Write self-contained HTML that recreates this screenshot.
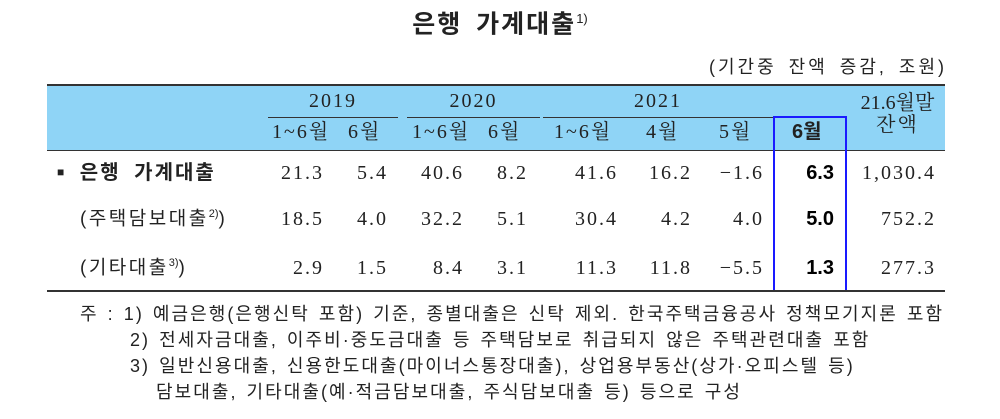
<!DOCTYPE html>
<html><head><meta charset="utf-8"><style>
body{margin:0;width:1000px;height:419px;background:#fff;position:relative;overflow:hidden;font-family:"Liberation Serif","Noto Serif CJK SC",serif;color:#222}
.a{position:absolute;white-space:nowrap;line-height:1}
.n{font-size:20px;letter-spacing:2px}
.g{font-family:"Liberation Sans","Noto Sans CJK KR",sans-serif}
.r{text-align:right}
.c{text-align:center}
</style></head><body>
<div class="a g" style="left:0;width:1000px;top:12px;text-align:center;font-size:25px;font-weight:bold;letter-spacing:2px;word-spacing:5px">은행 가계대출<sup style="font-size:13px;font-weight:normal;letter-spacing:0">1)</sup></div>
<div class="a g" style="right:53px;top:58px;font-size:18px;letter-spacing:3px;word-spacing:4px">(기간중 잔액 증감, 조원)</div>
<div class="a" style="left:47px;top:84px;width:898px;height:64px;background:#8fd4f6;border-top:2px solid #333;border-bottom:1px solid #333"></div>
<div class="a" style="left:268px;top:117px;width:130px;border-top:1px solid #333"></div>
<div class="a" style="left:407px;top:117px;width:133px;border-top:1px solid #333"></div>
<div class="a" style="left:543px;top:117px;width:303px;border-top:1px solid #333"></div>
<div class="a n c" style="left:268px;width:130px;top:91px">2019</div>
<div class="a n c" style="left:407px;width:133px;top:91px">2020</div>
<div class="a n c" style="left:543px;width:230px;top:91px">2021</div>
<div class="a n c" style="left:850px;width:95px;top:93px;letter-spacing:0">21.6월말</div>
<div class="a n c" style="left:850px;width:95px;top:115px">잔액</div>
<div class="a n" style="left:272px;top:122px">1~6월</div>
<div class="a n" style="left:348px;top:122px">6월</div>
<div class="a n" style="left:412px;top:122px">1~6월</div>
<div class="a n" style="left:488px;top:122px">6월</div>
<div class="a n" style="left:554px;top:122px">1~6월</div>
<div class="a n" style="left:646px;top:122px">4월</div>
<div class="a n" style="left:719px;top:122px">5월</div>
<div class="a n g" style="left:792px;top:122px;font-weight:bold;letter-spacing:0">6월</div>
<div class="a" style="left:773px;top:116px;width:70px;height:172px;border:2px solid #1a1aff"></div>
<div class="a g" style="left:57px;top:163px;font-size:20px;font-weight:bold;letter-spacing:2px;word-spacing:6px"><span style="font-size:12px;vertical-align:3px">■</span> 은행 가계대출</div>
<div class="a g" style="left:80px;top:209px;font-size:19px;letter-spacing:2.5px">(주택담보대출<sup style="font-size:11px;letter-spacing:0">2)</sup>)</div>
<div class="a g" style="left:80px;top:258px;font-size:19px;letter-spacing:2.5px">(기타대출<sup style="font-size:11px;letter-spacing:0">3)</sup>)</div>
<div id="rows"></div>
<div class="a" style="left:47px;top:290px;width:898px;border-top:2px solid #333"></div>
<div class="a g" style="left:80px;top:301px;font-size:18px;line-height:26px;letter-spacing:2.05px;word-spacing:2px">주 : 1) 예금은행(은행신탁 포함) 기준, 종별대출은 신탁 제외. 한국주택금융공사 정책모기지론 포함<br>
<span style="padding-left:50px">2) 전세자금대출, 이주비·중도금대출 등 주택담보로 취급되지 않은 주택관련대출 포함</span><br>
<span style="padding-left:50px">3) 일반신용대출, 신용한도대출(마이너스통장대출), 상업용부동산(상가·오피스텔 등)</span><br>
<span style="padding-left:76px">담보대출, 기타대출(예·적금담보대출, 주식담보대출 등) 등으로 구성</span></div>
<script>
var rights=[322,386,462,526,616,690,762,834,934];
var data=[["21.3","5.4","40.6","8.2","41.6","16.2","−1.6","6.3","1,030.4"],
["18.5","4.0","32.2","5.1","30.4","4.2","4.0","5.0","752.2"],
["2.9","1.5","8.4","3.1","11.3","11.8","−5.5","1.3","277.3"]];
var tops=[163,209,258],h="";
data.forEach(function(r,i){r.forEach(function(v,j){
var b=j==7;
h+='<div class="a n'+(b?' g':'')+'" style="right:'+(1000-rights[j]-(b?0:2))+'px;top:'+tops[i]+'px;'+(b?'font-weight:bold;color:#000;letter-spacing:0':'')+'">'+v+'</div>';});});
document.getElementById('rows').innerHTML=h;
</script>
</body></html>
